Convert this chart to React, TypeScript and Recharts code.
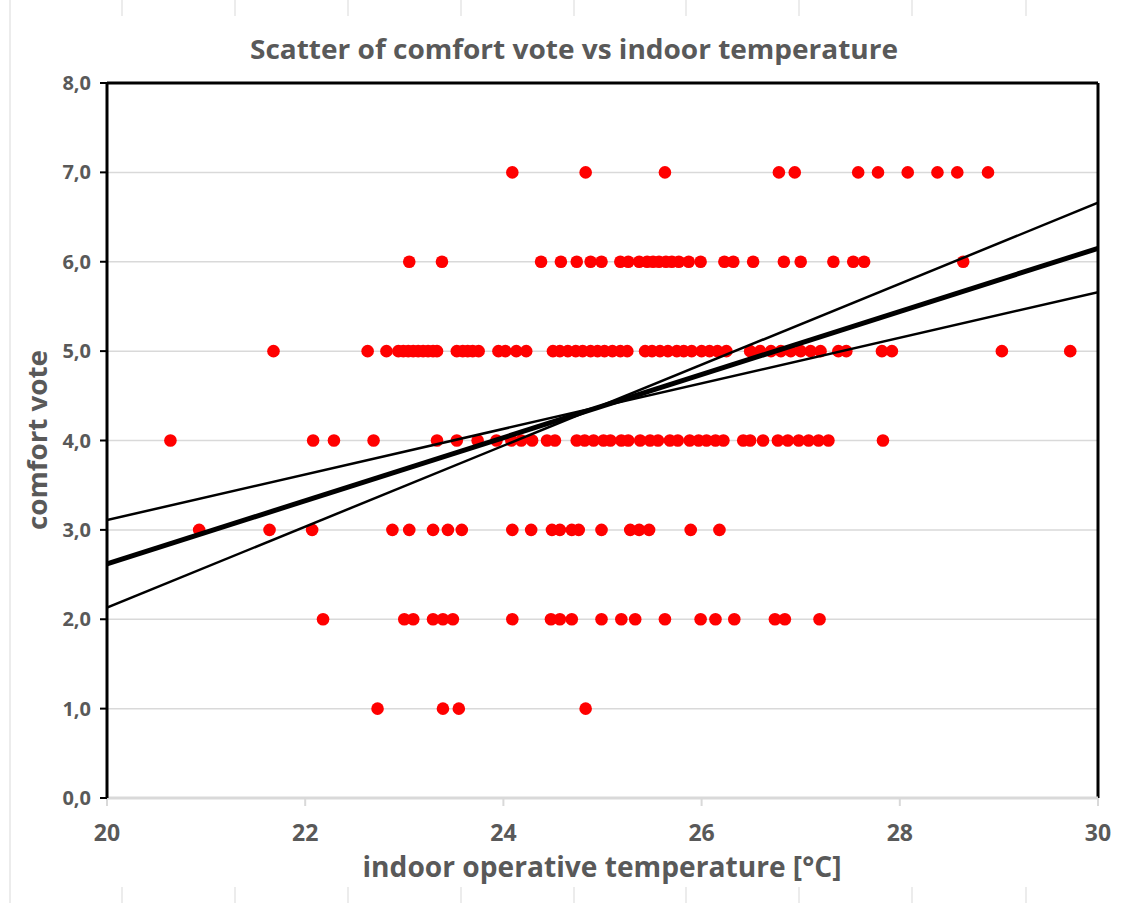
import React from 'react';
import { ScatterChart, Scatter, XAxis, YAxis, CartesianGrid, ReferenceLine } from 'recharts';

const chartTitle = 'Scatter of comfort vote vs indoor temperature';
const xTitle = 'indoor operative temperature [°C]';
const yTitle = 'comfort vote';

const xTicks = [20, 22, 24, 26, 28, 30];
const yTicks = [0, 1, 2, 3, 4, 5, 6, 7, 8];

// indoor temperatures of the votes, grouped by comfort vote
const vote7 = [24.09, 24.83, 25.63, 26.78, 26.94, 27.58, 27.78, 28.08, 28.38, 28.58, 28.89];
const vote6 = [23.05, 23.38, 24.38, 24.58, 24.74, 24.88, 24.99, 25.18, 25.26, 25.37, 25.45, 25.51, 25.57, 25.64, 25.7, 25.77, 25.87, 25.99, 26.23, 26.32, 26.52, 26.83, 27.0, 27.33, 27.53, 27.64, 28.64];
const vote5 = [21.68, 22.63, 22.82, 22.94, 22.99, 23.04, 23.09, 23.14, 23.19, 23.24, 23.29, 23.33, 23.53, 23.59, 23.64, 23.69, 23.75, 23.95, 24.02, 24.13, 24.23, 24.5, 24.57, 24.65, 24.73, 24.8, 24.88, 24.95, 25.02, 25.1, 25.18, 25.25, 25.43, 25.5, 25.58, 25.66, 25.75, 25.82, 25.9, 26.0, 26.08, 26.16, 26.25, 26.49, 26.59, 26.7, 26.8, 26.9, 27.0, 27.1, 27.2, 27.38, 27.46, 27.82, 27.92, 29.03, 29.72];
const vote4 = [20.64, 22.08, 22.29, 22.69, 23.33, 23.53, 23.74, 23.93, 24.08, 24.18, 24.29, 24.44, 24.52, 24.74, 24.82, 24.91, 25.01, 25.08, 25.19, 25.26, 25.38, 25.48, 25.56, 25.68, 25.76, 25.88, 25.97, 26.05, 26.14, 26.22, 26.42, 26.49, 26.62, 26.77, 26.87, 26.98, 27.08, 27.18, 27.28, 27.83];
const vote3 = [20.93, 21.64, 22.07, 22.88, 23.05, 23.29, 23.44, 23.58, 24.09, 24.28, 24.49, 24.57, 24.69, 24.76, 24.99, 25.28, 25.37, 25.47, 25.89, 26.18];
const vote2 = [22.18, 23.0, 23.09, 23.29, 23.39, 23.49, 24.09, 24.48, 24.57, 24.69, 24.99, 25.19, 25.33, 25.63, 25.99, 26.14, 26.33, 26.74, 26.84, 27.19];
const vote1 = [22.73, 23.39, 23.55, 24.83];

// regression line and its band lines
const fitX = [20, 30];
const fitMean = [2.62, 6.15];
const fitBandFlat = [3.11, 5.66];
const fitBandSteep = [2.13, 6.66];

const groups: [number, number[]][] = [
  [7, vote7], [6, vote6], [5, vote5], [4, vote4], [3, vote3], [2, vote2], [1, vote1],
];
const points = groups.flatMap(([v, ts]) => ts.map((t) => ({ x: t, y: v })));
const toLine = (ys: number[]) => fitX.map((x, i) => ({ x, y: ys[i] }));

const FONT = '"Open Sans", "DejaVu Sans", sans-serif';
const GREY = '#595959';

const Dot = (props: any) => <circle cx={props.cx} cy={props.cy} r={6.3} fill="#ff0000" />;
const NoShape = () => <g />;

const fmtY = (v: number) => v.toFixed(1).replace('.', ',');

const decoX = [122, 235, 348, 461, 574, 686, 799, 912, 1026];

export default function App() {
  return (
    <div style={{ position: 'absolute', left: 0, top: 0, width: 1131, height: 903, background: '#fff' }}>
      <ScatterChart width={1131} height={903} margin={{ top: 83, right: 33, bottom: 0, left: 0 }}>
        <CartesianGrid horizontal vertical={false} stroke="#d9d9d9" strokeWidth={1.5} />
        <XAxis
          type="number"
          dataKey="x"
          domain={[20, 30]}
          ticks={xTicks}
          allowDataOverflow
          height={105}
          axisLine={{ stroke: '#d9d9d9', strokeWidth: 3 }}
          tickLine={{ stroke: '#d9d9d9', strokeWidth: 2 }}
          tickSize={8}
          tickMargin={19}
          tick={{ fill: GREY, fontSize: 23, fontWeight: 700, fontFamily: FONT }}
        />
        <YAxis
          type="number"
          dataKey="y"
          domain={[0, 8]}
          ticks={yTicks}
          allowDataOverflow
          width={107}
          axisLine={{ stroke: '#000', strokeWidth: 3 }}
          tickLine={{ stroke: '#000', strokeWidth: 2 }}
          tickSize={7}
          tickMargin={9}
          tickFormatter={fmtY}
          tick={{ fill: GREY, fontSize: 20, fontWeight: 700, fontFamily: FONT }}
        />
        <ReferenceLine y={8} stroke="#000" strokeWidth={3} />
        <ReferenceLine x={30} stroke="#000" strokeWidth={3} />
        <Scatter data={points} shape={Dot} isAnimationActive={false} />
        <Scatter data={toLine(fitBandFlat)} shape={NoShape} line={{ stroke: '#000', strokeWidth: 2.5 }} isAnimationActive={false} />
        <Scatter data={toLine(fitBandSteep)} shape={NoShape} line={{ stroke: '#000', strokeWidth: 2.5 }} isAnimationActive={false} />
        <Scatter data={toLine(fitMean)} shape={NoShape} line={{ stroke: '#000', strokeWidth: 5 }} isAnimationActive={false} />
      </ScatterChart>
      <svg width={1131} height={903} style={{ position: 'absolute', left: 0, top: 0, pointerEvents: 'none' }}>
        <line x1={10} y1={0} x2={10} y2={903} stroke="#d9d9d9" strokeWidth={1} />
        {decoX.map((x) => (
          <g key={x}>
            <line x1={x} y1={0} x2={x} y2={16} stroke="#d9d9d9" strokeWidth={1} />
            <line x1={x} y1={887} x2={x} y2={903} stroke="#d9d9d9" strokeWidth={1} />
          </g>
        ))}
        <text x={574} y={59} textAnchor="middle" fill={GREY} fontSize={26} fontWeight={700} fontFamily={FONT}
          textLength={648} lengthAdjust="spacingAndGlyphs">{chartTitle}</text>
        <text x={602} y={877} textAnchor="middle" fill={GREY} fontSize={28} fontWeight={700} fontFamily={FONT}
          textLength={479} lengthAdjust="spacingAndGlyphs">{xTitle}</text>
        <text x={0} y={0} transform="translate(47,440) rotate(-90)" textAnchor="middle" fill={GREY} fontSize={27} fontWeight={700}
          fontFamily={FONT} textLength={180} lengthAdjust="spacingAndGlyphs">{yTitle}</text>
      </svg>
    </div>
  );
}
